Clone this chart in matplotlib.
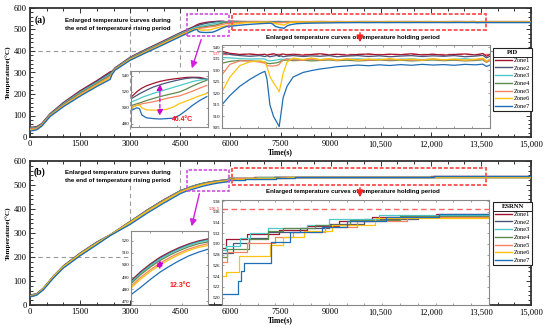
import matplotlib
matplotlib.use('Agg')
import matplotlib.pyplot as plt
from matplotlib.patches import Rectangle
from matplotlib.lines import Line2D
from matplotlib.ticker import MultipleLocator, FuncFormatter

ZONES = ['Zone1', 'Zone2', 'Zone3', 'Zone4', 'Zone5', 'Zone6', 'Zone7']
COLORS = ['#A2142F', '#4A5578', '#4DC9C9', '#5E8A4E', '#F4845F', '#FFC20E', '#1F6DB5']

# ---------------- Panel (a) PID ----------------
T_RISE_A = [0, 100, 200, 350, 600, 1000, 1500, 2000, 2400, 2460, 2550, 3000, 3500, 4000, 4500]
RISE_A = [
    [45, 46, 48, 62, 108, 160, 215, 262, 303, 306, 322, 371, 410, 447, 485],
    [42, 44, 46, 60, 106, 157, 211, 258, 298, 303, 320, 369, 408, 445, 483],
    [40, 42, 44, 58, 104, 154, 207, 253, 292, 300, 318, 367, 405, 442, 480],
    [38, 40, 42, 57, 102, 151, 203, 249, 287, 298, 317, 365, 403, 440, 477],
    [36, 38, 40, 55, 100, 148, 199, 245, 282, 296, 315, 362, 400, 437, 474],
    [32, 33, 36, 52, 97, 144, 194, 240, 276, 294, 313, 360, 397, 434, 471],
    [28, 30, 34, 50, 95, 141, 190, 235, 268, 292, 311, 357, 394, 430, 467],
]
T_END_A = [4910, 4975, 5010, 5040, 5100, 5190, 5275, 5360, 5450, 5535, 5620, 5705, 5790, 5885]
END_A = [
    [514, 520, 522.5, 524.5, 527.5, 530.5, 533, 534.7, 536, 537, 538, 538.2, 538, 536],
    [511.7, 515.5, 517.5, 519, 522, 526, 528.7, 531.2, 533.3, 535.2, 536.8, 537.5, 537, 535.5],
    [507.5, 510, 511.5, 513, 515, 518, 520.5, 523, 525.5, 528, 530.5, 533, 534.5, 536],
    [503, 505, 506, 507, 509, 511.7, 514, 516, 518, 520, 523.5, 527.5, 531, 534.5],
    [501, 503, 504, 505, 506, 507.5, 509.5, 511.7, 513.5, 515, 518, 521, 524.5, 528],
    [500, 503, 503.5, 500, 497.5, 497, 497.5, 498, 501, 505.5, 508.5, 511.7, 515, 518],
    [497, 500, 499, 491, 487.5, 486.5, 486, 486.5, 487, 491, 497, 503.5, 509, 514],
]
T_HOLD_A = [6000, 6220, 6500, 6780, 7060, 7200, 7260, 7340, 7440, 7530, 7600, 7650, 7710, 7820,
            7990, 8270, 8500, 8750, 9000, 9220, 9500, 9800, 10100, 10400, 10700, 11000, 11300,
            11600, 11900, 12200, 12500, 12800, 13100, 13300, 13400, 13500, 15000]
HOLD_A = [
    [538.2, 537.3, 536.8, 537.0, 536.6, 536.9, 536.5, 536.8, 537.1, 536.7, 536.4, 536.8, 537.0, 536.6,
     536.9, 536.5, 536.8, 537.1, 536.6, 536.9, 536.5, 536.8, 537.0, 536.6, 536.9, 536.7, 537.1,
     536.6, 536.9, 536.5, 536.8, 537.0, 536.6, 537.2, 536.0, 536.8, 536.8],
    [537.5, 536.8, 536.3, 536.0, 536.3, 535.9, 536.2, 535.8, 536.1, 536.4, 535.9, 536.2, 535.8, 536.1,
     536.3, 535.9, 536.2, 536.0, 536.3, 535.8, 536.1, 536.3, 535.9, 536.2, 535.8, 536.1, 536.3,
     535.9, 536.2, 536.0, 536.3, 535.8, 536.1, 536.4, 535.3, 536.0, 536.0],
    [535.5, 535.3, 535.0, 534.8, 534.9, 534.8, 534.2, 534.0, 534.2, 534.4, 534.6, 534.8, 534.6, 534.9,
     534.7, 534.5, 534.8, 534.6, 534.9, 534.5, 534.7, 534.9, 534.6, 534.8, 534.5, 534.7, 534.9,
     534.6, 534.8, 534.5, 534.7, 534.9, 534.6, 534.9, 533.8, 534.6, 534.6],
    [533.0, 533.8, 534.2, 534.0, 533.8, 533.5, 533.0, 532.8, 533.0, 533.2, 533.5, 534.0, 534.2, 534.4,
     534.1, 534.3, 534.0, 534.2, 534.4, 534.1, 534.3, 534.0, 534.2, 534.4, 534.1, 534.3, 534.0,
     534.2, 534.4, 534.1, 534.3, 534.0, 534.2, 534.5, 533.4, 534.2, 534.2],
    [528.0, 532.5, 534.0, 534.0, 533.5, 533.0, 532.0, 531.8, 531.8, 532.0, 532.5, 533.5, 534.3, 534.8,
     534.5, 534.3, 534.7, 534.4, 534.6, 534.3, 534.7, 534.5, 534.3, 534.6, 534.4, 534.7, 534.3,
     534.5, 534.7, 534.4, 534.6, 534.3, 534.5, 534.8, 533.5, 534.5, 534.5],
    [520.6, 527.0, 532.0, 533.6, 534.0, 533.6, 531.5, 527.2, 524.5, 522.5, 520.6, 524.0, 528.5, 533.5,
     535.2, 534.6, 535.3, 534.5, 535.0, 534.4, 534.9, 534.3, 534.8, 534.5, 535.0, 534.4, 534.8,
     534.3, 534.9, 534.5, 534.8, 534.3, 534.7, 535.2, 534.0, 534.6, 534.6],
    [515.0, 519.0, 523.0, 526.0, 528.5, 529.5, 526.0, 515.0, 510.0, 507.5, 505.5, 511.0, 518.0, 523.0,
     527.0, 529.0, 529.8, 530.5, 531.0, 531.5, 531.8, 532.2, 531.9, 532.3, 532.0, 532.4, 532.1,
     532.5, 532.2, 532.4, 532.1, 532.5, 532.3, 532.6, 531.6, 532.2, 532.2],
]
SET_A = 537
SPREAD_A = 46.4
SPREAD_T_A = 5275

# ---------------- Panel (b) ESRNN ----------------
T_RISE_B = [0, 100, 200, 400, 700, 1000, 1500, 2000, 2400, 3000, 3500, 4000, 4500]
RISE_B = [
    [40, 44, 47, 70, 120, 163, 216, 262, 292, 348, 395, 438, 476],
    [39, 43, 46, 69, 119, 162, 215, 261, 292, 347, 394, 437, 475],
    [38, 42, 45, 68, 118, 161, 214, 260, 291, 346, 393, 436, 474.5],
    [37, 41, 44, 67, 117, 160, 213, 259, 291, 345, 392, 435, 473.5],
    [36, 40, 43, 66, 116, 158, 211, 257, 290, 343, 390, 433, 471.5],
    [35, 39, 43, 67, 118, 159, 211, 256, 291, 344, 389, 431, 470],
    [34, 37, 41, 63, 112, 154, 205, 251, 289, 336, 382, 424, 464],
]
T_END_B = [4700, 4850, 5000, 5150, 5300, 5450, 5600, 5750, 5900]
END_B = [
    [487.0, 494.5, 500.8, 506.3, 510.6, 514.3, 517.4, 519.8, 521.5],
    [486.2, 493.7, 500.0, 505.5, 509.9, 513.6, 516.8, 519.2, 521.0],
    [485.5, 493.0, 499.3, 504.8, 509.2, 513.0, 516.2, 518.7, 520.3],
    [484.5, 492.0, 498.2, 503.6, 508.0, 511.8, 515.0, 517.5, 519.0],
    [482.5, 489.8, 496.0, 501.5, 506.0, 509.9, 513.2, 515.7, 517.5],
    [481.0, 488.3, 494.6, 500.0, 504.5, 508.5, 511.9, 514.5, 516.0],
    [475.5, 481.5, 488.0, 494.0, 499.0, 503.5, 507.5, 510.5, 513.0],
]
STEP_T_B = [
    [6000, 6100, 6700, 7600, 8400, 9300, 10200, 12000, 13500],
    [6000, 6300, 6750, 7300, 8200, 9000, 10000, 11500, 13500],
    [6000, 6100, 6500, 6800, 7300, 8400, 9000, 10400, 13500],
    [6000, 6150, 6750, 7300, 7700, 8600, 9600, 11000, 13500],
    [6000, 6150, 6700, 7500, 8000, 8900, 9800, 11200, 13500],
    [6000, 6100, 6480, 7350, 7700, 8300, 9100, 10300, 13500],
    [6000, 6450, 6530, 6620, 7380, 7920, 8800, 9500, 10600, 12100, 13500],
]
STEP_V_B = [
    [529.3, 531.0, 531.9, 532.6, 533.3, 534.3, 535.0, 535.5, 535.5],
    [528.4, 530.2, 531.2, 532.2, 533.0, 533.8, 534.6, 535.3, 535.3],
    [528.8, 529.6, 531.2, 532.0, 533.0, 533.6, 534.6, 535.4, 535.4],
    [527.5, 529.0, 531.0, 532.5, 533.0, 533.6, 534.4, 535.2, 535.2],
    [526.6, 528.5, 530.2, 531.3, 532.3, 533.2, 534.2, 535.1, 535.1],
    [524.0, 524.7, 527.8, 529.8, 531.3, 532.4, 533.6, 534.8, 534.8],
    [520.6, 523.0, 525.0, 526.5, 530.3, 532.2, 533.2, 534.2, 535.0, 535.6, 535.6],
]
SET_B = 536.5
SPREAD_B = 12.3
SPREAD_T_B = 5150
T_END_OF_RUN = 15000

SERIF = 'Liberation Serif'
SANS = 'Liberation Sans'
plt.rcParams['font.family'] = SERIF
plt.rcParams['mathtext.fontset'] = 'stix'

W, H = 550, 332
fig = plt.figure(figsize=(W / 100, H / 100), dpi=100)


def box(l, t, r, b):
    return [l / W, 1 - b / H, (r - l) / W, (b - t) / H]


def fp(x, y):
    return (x / W, 1 - y / H)


def xfmt(v, p):
    return f'{v:,.0f}' if v >= 10000 else f'{v:.0f}'


def style_main(ax):
    ax.set_xlim(0, 15000)
    ax.set_ylim(0, 600)
    ax.xaxis.set_major_locator(MultipleLocator(1500))
    ax.xaxis.set_minor_locator(MultipleLocator(500))
    ax.yaxis.set_major_locator(MultipleLocator(100))
    ax.yaxis.set_minor_locator(MultipleLocator(20))
    ax.xaxis.set_major_formatter(FuncFormatter(xfmt))
    ax.tick_params(which='both', direction='in', top=True, right=True, labelsize=6.2,
                   pad=2.5, width=0.7, color='#333333')
    ax.tick_params(which='major', length=3.5)
    ax.tick_params(which='minor', length=2)
    for s in ax.spines.values():
        s.set_linewidth(1.3)
        s.set_color('#333333')
    ax.set_xlabel('Time(s)', fontsize=5.5, fontweight='bold', labelpad=0)
    ax.set_ylabel('Temperature(°C)', fontsize=5.2, fontweight='bold', labelpad=1)


def style_inset(ax, xlim, ylim, yticks, xticks):
    ax.set_xlim(*xlim)
    ax.set_ylim(*ylim)
    ax.set_yticks(yticks)
    ax.set_xticks(xticks)
    ax.set_xticklabels([])
    ax.tick_params(which='both', direction='in', labelsize=3.6, pad=1, length=1.5,
                   width=0.5, top=True, right=True, color='#777777')
    for s in ax.spines.values():
        s.set_linewidth(0.8)
        s.set_color('#888888')


def add_legend(ax, title, top_px):
    handles = [Line2D([], [], color=c, lw=1.0) for c in COLORS]
    lg = ax.legend(handles, ZONES, title=title, loc='upper left',
                   bbox_to_anchor=fp(493, top_px), bbox_transform=fig.transFigure,
                   fontsize=4.6, title_fontsize=4.8, handlelength=2.6, handletextpad=0.3,
                   labelspacing=0.35, borderpad=0.35, borderaxespad=0, fancybox=False,
                   framealpha=1, edgecolor='#222222')
    lg.get_frame().set_linewidth(0.8)
    lg.get_title().set_fontweight('bold')
    lg.set_zorder(20)
    return lg


def sans(x, y, s, **kw):
    fig.text(*fp(x, y), s, family=SANS, fontweight='bold', ha='center', va='center', **kw)


axA = fig.add_axes(box(30, 8, 531, 137))
axB = fig.add_axes(box(30, 161, 531, 305))
style_main(axA)
style_main(axB)

# ---- main curves (a)
for i in range(7):
    t = T_RISE_A + T_END_A + T_HOLD_A
    v = RISE_A[i] + END_A[i] + HOLD_A[i]
    axA.plot(t, v, color=COLORS[i], lw=1.0, zorder=3)

# ---- main curves (b)
for i in range(7):
    t = T_RISE_B + T_END_B + [STEP_T_B[i][0]]
    v = RISE_B[i] + END_B[i] + [STEP_V_B[i][0]]
    axB.plot(t, v, color=COLORS[i], lw=1.0, zorder=3)
    axB.plot(STEP_T_B[i] + [T_END_OF_RUN], STEP_V_B[i] + [STEP_V_B[i][-1]],
             drawstyle='steps-post', color=COLORS[i], lw=1.0, zorder=3)

# ---- guide lines
gkw = dict(color='#9a9a9a', lw=0.8, ls=(0, (4, 3)), zorder=1)
axA.axhline(400, **gkw)
axA.axvline(3000, **gkw)
axA.axvline(4500, **gkw)
axB.plot([0, 3050], [200, 200], **gkw)
axB.plot([3000, 3000], [350, 600], **gkw)
axB.plot([4500, 4500], [480, 600], **gkw)

# ---- rectangles
for ax, (y0, y1) in ((axA, (470, 572)), (axB, (475, 562))):
    ax.add_patch(Rectangle((4700, y0), 1250, y1 - y0, fill=False, ec='#D050E0', lw=1.2,
                           ls=(0, (2, 1)), zorder=5))
    ax.add_patch(Rectangle((6050, 498), 7600, 74, fill=False, ec='#FF5A5A', lw=1.4,
                           ls=(0, (2, 1)), zorder=5))

# ---- texts
fig.text(*fp(40, 20), '(a)', fontsize=7, fontweight='bold', ha='center', va='center')
fig.text(*fp(40, 172), '(b)', fontsize=7, fontweight='bold', ha='center', va='center')
sans(118, 24.5, 'Enlarged temperature curves during\nthe end of temperature rising period',
     fontsize=4.4, linespacing=1.6)
sans(118, 176.5, 'Enlarged temperature curves during\nthe end of temperature rising period',
     fontsize=4.4, linespacing=1.6)
sans(353, 37, 'Enlarged temperature curves of temperature holding period', fontsize=4.4)
sans(353, 191.5, 'Enlarged temperature curves of temperature holding period', fontsize=4.4)

# ---- arrows
akw = dict(xycoords='figure fraction', textcoords='figure fraction', zorder=30)
fig.add_artist(plt.Annotation('', xy=fp(191, 71), xytext=fp(202, 37),
               arrowprops=dict(arrowstyle='-|>,head_length=0.4,head_width=0.2', color='#D020E0', lw=1.0), **akw))
fig.add_artist(plt.Annotation('', xy=fp(191, 229), xytext=fp(200, 191),
               arrowprops=dict(arrowstyle='-|>,head_length=0.4,head_width=0.2', color='#D020E0', lw=1.0), **akw))
fig.add_artist(plt.Annotation('', xy=fp(360, 45), xytext=fp(360, 30),
               arrowprops=dict(arrowstyle='-|>,head_length=0.4,head_width=0.2', color='#FF2020', lw=1.0), **akw))
fig.add_artist(plt.Annotation('', xy=fp(360, 200), xytext=fp(360, 185),
               arrowprops=dict(arrowstyle='-|>,head_length=0.4,head_width=0.2', color='#FF2020', lw=1.0), **akw))

# ---- inset (a) rising end
insA1 = fig.add_axes(box(131, 71, 208, 127), zorder=10)
style_inset(insA1, (4900, 5900), (476, 546), [480, 500, 520, 540], [5000, 5500])
for i in range(7):
    insA1.plot(T_RISE_A + T_END_A, RISE_A[i] + END_A[i], color=COLORS[i], lw=0.9)
top_a = END_A[0][T_END_A.index(SPREAD_T_A)]
insA1.annotate('', xy=(SPREAD_T_A, top_a - SPREAD_A), xytext=(SPREAD_T_A, top_a),
               arrowprops=dict(arrowstyle='<|-|>,head_length=0.35,head_width=0.18',
                               color='#CC00CC', lw=0.9, ls=(0, (3, 2))))
insA1.text(0.53, 0.14, f'{SPREAD_A}°C', transform=insA1.transAxes, color='#FF1010',
           fontsize=5, fontweight='bold', family=SANS, va='center')

# ---- inset (a) holding
insA2 = fig.add_axes(box(222, 45, 490, 128), zorder=10)
style_inset(insA2, (6000, 13500), (504.9, 540.9), [505, 510, 515, 520, 525, 530, 535, 540],
            [7500, 9000, 10500, 12000])
insA2.xaxis.set_minor_locator(MultipleLocator(500))
for i in range(7):
    insA2.plot(T_HOLD_A, HOLD_A[i], color=COLORS[i], lw=0.9)
insA2.axhline(SET_A, color='#FF6464', lw=1.0, ls=(0, (4, 2.5)), zorder=1)
insA2.text(-0.008, SET_A, f'{SET_A}', transform=insA2.get_yaxis_transform(), color='#FF2020',
           fontsize=3.6, ha='right', va='center')

# ---- inset (b) rising end
insB1 = fig.add_axes(box(131, 231, 208, 305), zorder=10)
style_inset(insB1, (4700, 5900), (467, 528), [470, 480, 490, 500, 510, 520], [5000, 5500])
for i in range(7):
    insB1.plot(T_END_B, END_B[i], color=COLORS[i], lw=0.9)
top_b = END_B[0][T_END_B.index(SPREAD_T_B)]
insB1.annotate('', xy=(SPREAD_T_B, top_b - SPREAD_B), xytext=(SPREAD_T_B, top_b),
               arrowprops=dict(arrowstyle='<|-|>,head_length=0.35,head_width=0.18',
                               color='#CC00CC', lw=0.9, ls=(0, (3, 2))))
insB1.text(0.5, 0.27, f'{SPREAD_B}°C', transform=insB1.transAxes, color='#FF1010',
           fontsize=5, fontweight='bold', family=SANS, va='center')

# ---- inset (b) holding
insB2 = fig.add_axes(box(222, 200, 489, 305), zorder=10)
style_inset(insB2, (6000, 13500), (518.6, 538.2), list(range(520, 539, 2)),
            [7500, 9000, 10500, 12000])
insB2.xaxis.set_minor_locator(MultipleLocator(500))
for i in range(7):
    insB2.plot(STEP_T_B[i], STEP_V_B[i], drawstyle='steps-post', color=COLORS[i], lw=0.9)
insB2.axhline(SET_B, color='#FF6464', lw=1.0, ls=(0, (4, 2.5)), zorder=1)
insB2.text(-0.008, SET_B, f'{SET_B}', transform=insB2.get_yaxis_transform(), color='#FF2020',
           fontsize=3.6, ha='right', va='center')

# ---- legends
lgA = add_legend(axA, 'PID', 48)
lgB = add_legend(axB, 'ESRNN', 202)

fig.canvas.draw()
inv = fig.transFigure.inverted()
for lg in (lgA, lgB):
    bb = lg.get_window_extent()
    tb = lg.get_title().get_window_extent()
    y = tb.y0 - 1.5
    (x0, yy), (x1, _) = inv.transform([(bb.x0, y), (bb.x1, y)])
    fig.add_artist(Line2D([x0, x1], [yy, yy], color='#222222', lw=0.7, zorder=25))

fig.savefig('out.png', dpi=100)
